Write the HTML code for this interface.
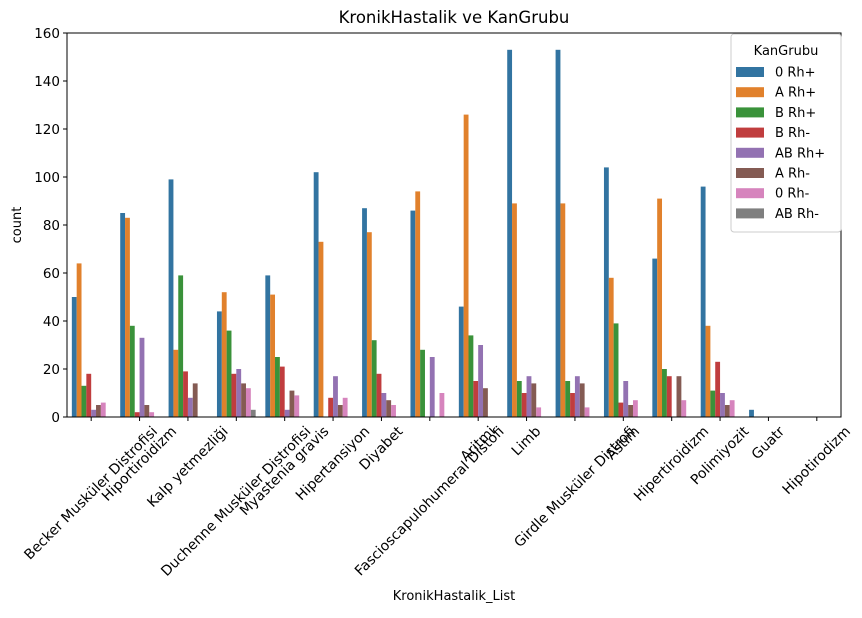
<!DOCTYPE html>
<html><head><meta charset="utf-8"><style>
body{margin:0;background:#fff}
svg{font-family:"DejaVu Sans","Liberation Sans",sans-serif}
</style></head><body>
<svg id="chart" width="862" height="613" xmlns="http://www.w3.org/2000/svg">
<text x="454" y="23" font-size="16.5" text-anchor="middle">KronikHastalik ve KanGrubu</text>
<g id="bars"></g><g id="axes"></g>
<text x="454" y="600" font-size="13" text-anchor="middle">KronikHastalik_List</text>
<text transform="translate(21,225) rotate(-90)" font-size="13" text-anchor="middle">count</text>
<g id="legend"></g>
</svg>
<script>
const categories=["Becker Musküler Distrofisi","Hiportiroidizm","Kalp yetmezliği","Duchenne Musküler Distrofisi","Myastenia gravis","Hipertansiyon","Diyabet","Fascioscapulohumeral Distofi","Aritmi","Limb","Girdle Musküler Distrofi","Astım","Hipertiroidizm","Polimiyozit","Guatr","Hipotirodizm"];
const seriesNames=["0 Rh+","A Rh+","B Rh+","B Rh-","AB Rh+","A Rh-","0 Rh-","AB Rh-"];
const s0RhPos=[50,85,99,44,59,102,87,86,46,153,153,104,66,96,3,0];
const sARhPos=[64,83,28,52,51,73,77,94,126,89,89,58,91,38,0,0];
const sBRhPos=[13,38,59,36,25,0,32,28,34,15,15,39,20,11,0,0];
const sBRhNeg=[18,2,19,18,21,8,18,0,15,10,10,6,17,23,0,0];
const sABRhPos=[3,33,8,20,3,17,10,25,30,17,17,15,0,10,0,0];
const sARhNeg=[5,5,14,14,11,5,7,0,12,14,14,5,17,5,0,0];
const s0RhNeg=[6,2,0,12,9,8,5,10,0,4,4,7,7,7,0,0];
const sABRhNeg=[0,0,0,3,0,0,0,0,0,0,0,0,0,0,0,0];
const yTicks=[0,20,40,60,80,100,120,140,160];
const series=[s0RhPos,sARhPos,sBRhPos,sBRhNeg,sABRhPos,sARhNeg,s0RhNeg,sABRhNeg];
const colors=["#3274a1","#e1812c","#3a923a","#c03d3e","#9372b2","#845b53","#d684bd","#7f7f7f"];
const NS="http://www.w3.org/2000/svg";
const L=67,R=841,T=33,B=417;
const n=categories.length, cw=(R-L)/n;
const yScale=v=>B-(v/160)*(B-T);
const xCenter=i=>L+cw*(i+0.5);
const bw=cw*0.8/series.length;
function mk(tag,attrs,parent){const e=document.createElementNS(NS,tag);for(const k in attrs)e.setAttribute(k,attrs[k]);parent.appendChild(e);return e;}
const gb=document.getElementById('bars');
series.forEach((s,j)=>{s.forEach((v,i)=>{
 const x=xCenter(i)-cw*0.4+j*bw;
 const r=mk('rect',{x:x,y:yScale(v),width:bw,height:B-yScale(v),fill:colors[j]},gb);
 
 
});});
const ga=document.getElementById('axes');
const fr=mk('rect',{x:L,y:T,width:R-L,height:B-T,fill:'none',stroke:'#000','stroke-width':1},ga);


yTicks.forEach(t=>{
 const y=yScale(t);
 mk('line',{x1:L-4,x2:L,y1:y,y2:y,stroke:'#000'},ga);
 const tx=mk('text',{x:L-7,y:y+5,'font-size':13.5,'text-anchor':'end'},ga);
 tx.textContent=t;
 
 
});
categories.forEach((c,i)=>{
 const x=xCenter(i);
 mk('line',{x1:x,x2:x,y1:B,y2:B+4,stroke:'#000'},ga);
 const tx=mk('text',{x:0,y:0,'font-size':14,'text-anchor':'middle','dominant-baseline':'central'},ga);
 tx.textContent=c;
 
 
 const w=tx.getComputedTextLength();
 const h=(w+15)*0.7071;
 tx.setAttribute('transform','translate('+x+','+(B+7+h/2)+') rotate(-45)');
});
const gl=document.getElementById('legend');
const lb=mk('rect',{x:731,y:34,width:110,height:198,rx:3,fill:'#fff','fill-opacity':0.8,stroke:'#ccc'},gl);


const lt=mk('text',{x:786,y:55,'font-size':13,'text-anchor':'middle'},gl);
lt.textContent='KanGrubu';


seriesNames.forEach((nm,j)=>{
 const y=71+j*20.2;
 const r=mk('rect',{x:736,y:y-4,width:28,height:10,fill:colors[j]},gl);
 
 
 const t=mk('text',{x:775,y:y+5.5,'font-size':13},gl);
 t.textContent=nm;
 
 
});
</script>
</body></html>
